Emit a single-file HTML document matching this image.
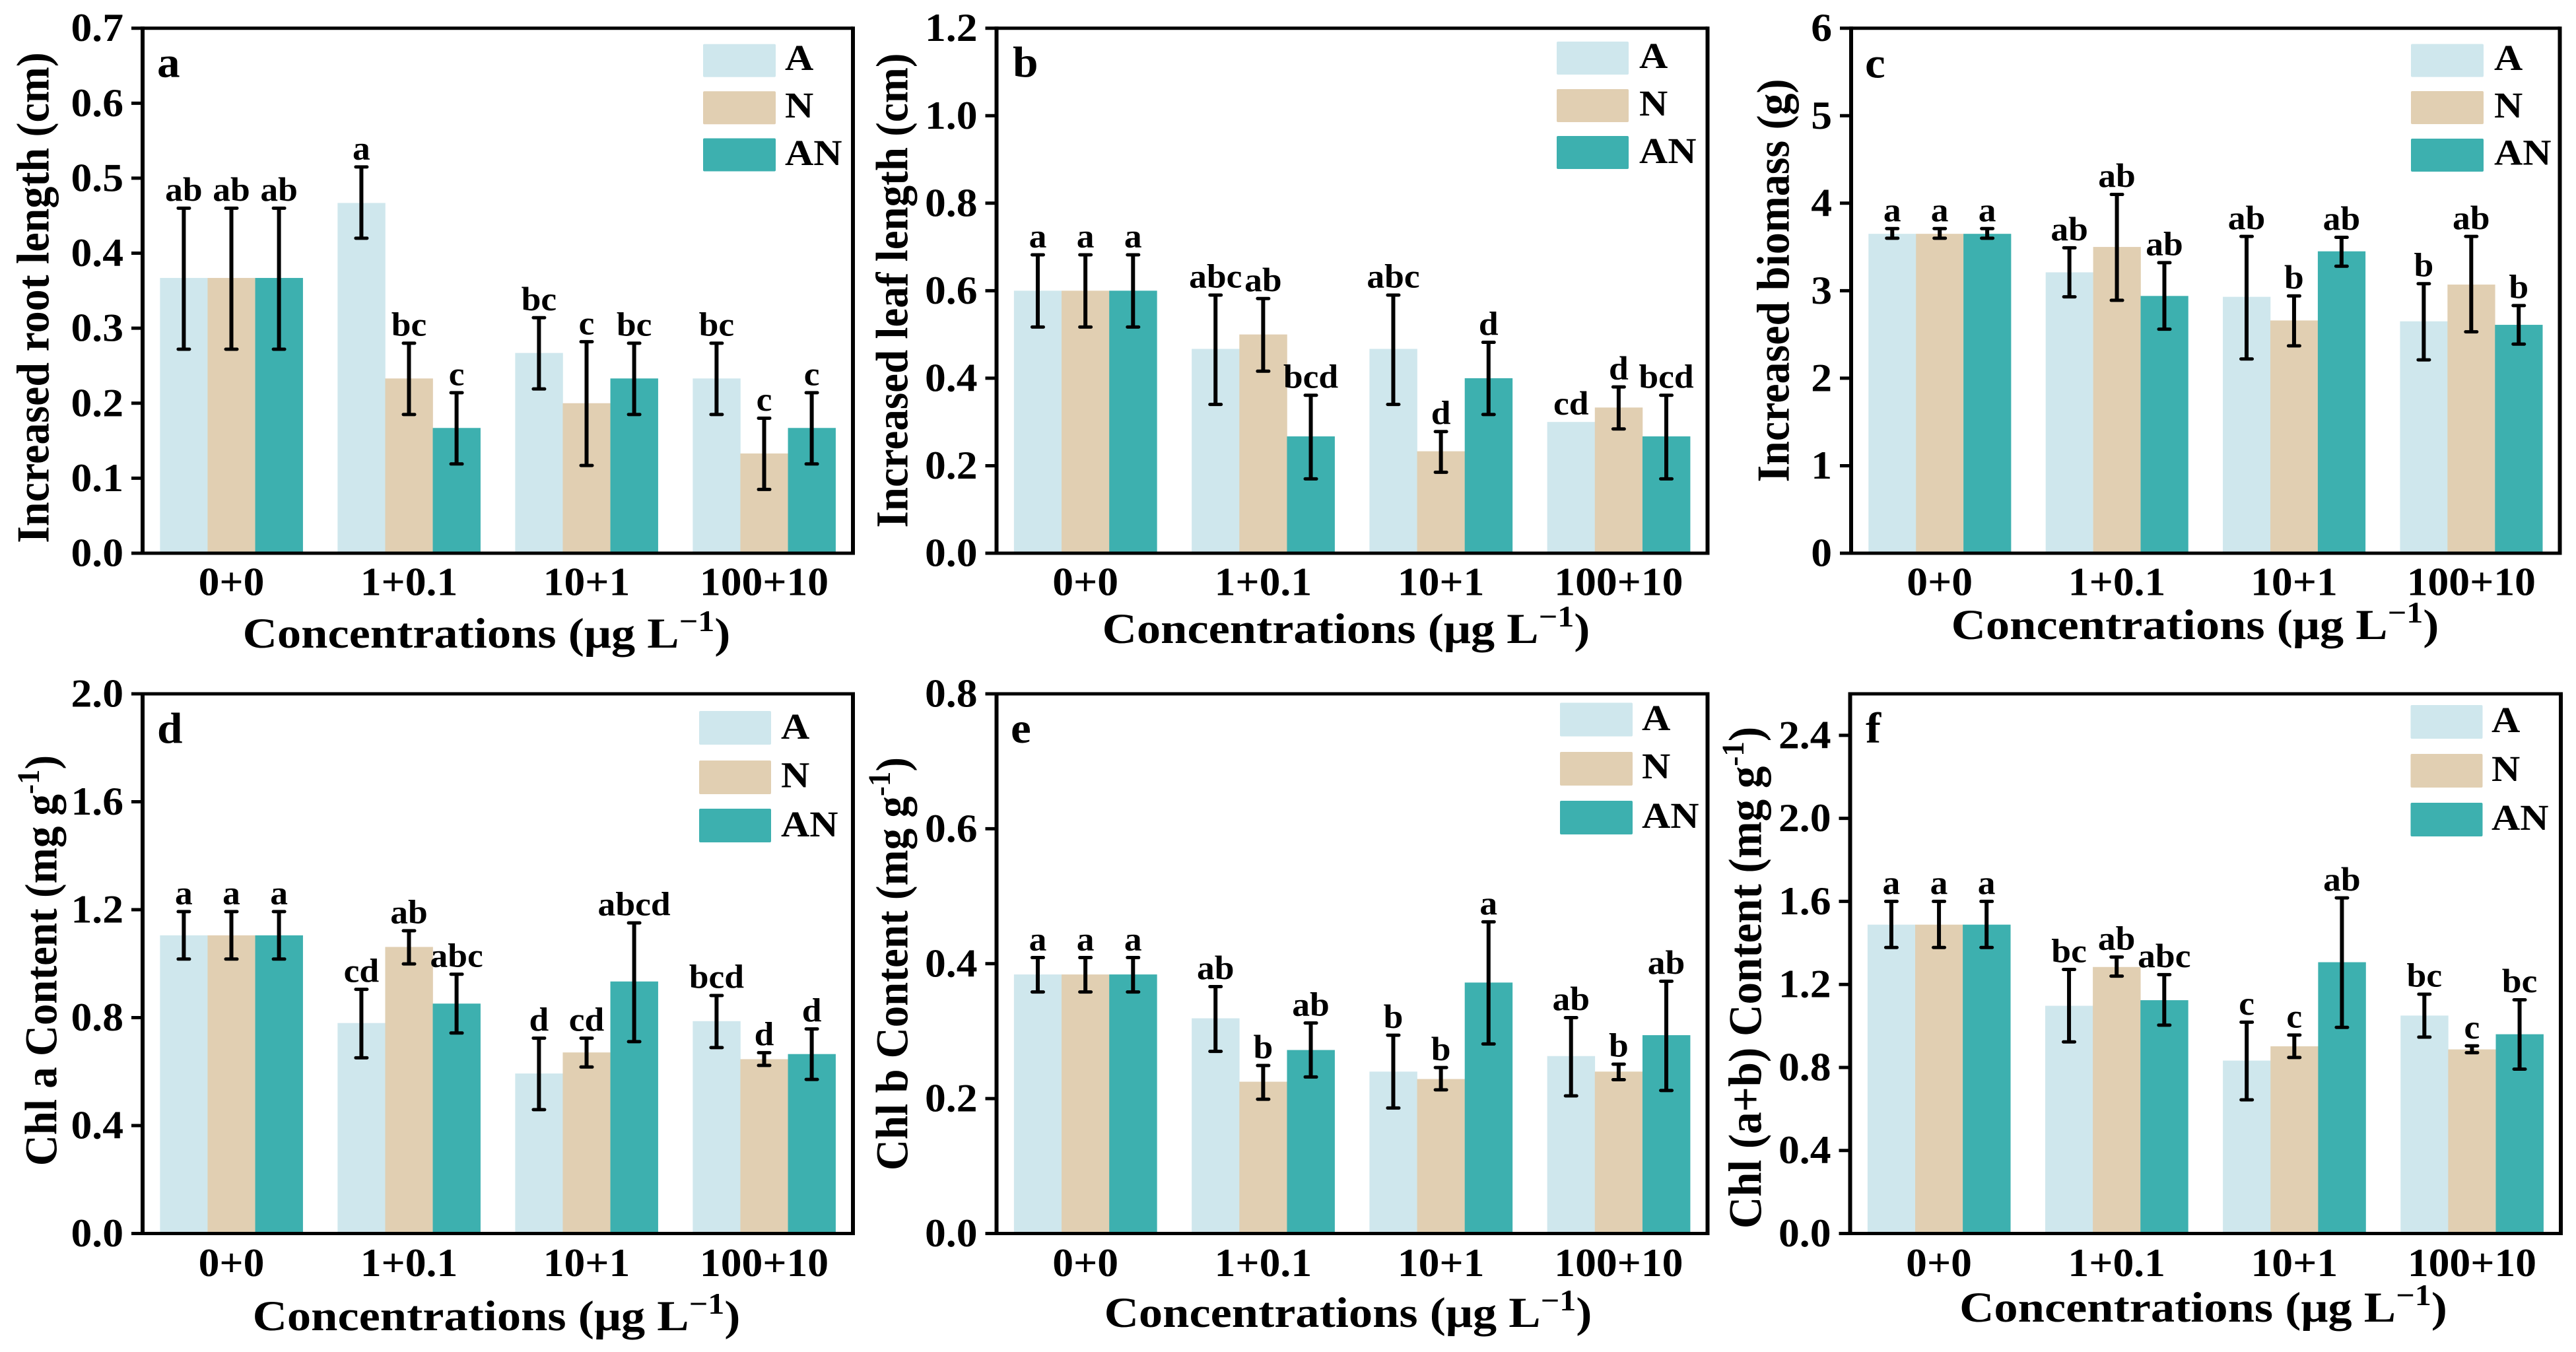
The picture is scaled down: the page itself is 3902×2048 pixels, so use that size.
<!DOCTYPE html>
<html lang="en">
<head>
<meta charset="utf-8">
<title>Six-panel bar chart</title>
<style>
html,body{margin:0;padding:0;background:#fff;}
svg{display:block;}
text{font-family:"Liberation Serif",serif;font-weight:bold;fill:#000;}
</style>
</head>
<body>
<svg id="figure" xmlns="http://www.w3.org/2000/svg" width="3902" height="2048" viewBox="0 0 3902 2048"></svg>
<script>
const categories = ['0+0','1+0.1','10+1','100+10'];
const seriesNames = ['A','N','AN'];
const seriesColors = ['#cfe7ed','#e1cfb2','#3db0af'];

const aTicks = ['0.0','0.1','0.2','0.3','0.4','0.5','0.6','0.7'];
const aMeanA = [0.367,0.467,0.267,0.233];
const aMeanN = [0.367,0.233,0.200,0.133];
const aMeanAN = [0.367,0.167,0.233,0.167];
const aHighA = [0.460,0.515,0.314,0.280];
const aHighN = [0.460,0.280,0.282,0.180];
const aHighAN = [0.460,0.214,0.280,0.214];
const aLowA = [0.272,0.420,0.219,0.185];
const aLowN = [0.272,0.185,0.117,0.085];
const aLowAN = [0.272,0.119,0.185,0.119];
const aLetters = ['ab','ab','ab','a','bc','c','bc','c','bc','bc','c','c'];

const bTicks = ['0.0','0.2','0.4','0.6','0.8','1.0','1.2'];
const bMeanA = [0.600,0.467,0.467,0.300];
const bMeanN = [0.600,0.500,0.233,0.333];
const bMeanAN = [0.600,0.267,0.400,0.267];
const bHighA = [0.682,0.590,0.590,0.300];
const bHighN = [0.682,0.582,0.278,0.380];
const bHighAN = [0.682,0.361,0.482,0.361];
const bLowA = [0.517,0.340,0.340,0.300];
const bLowN = [0.517,0.416,0.185,0.284];
const bLowAN = [0.517,0.170,0.317,0.170];
const bLetters = ['a','a','a','abc','ab','bcd','abc','d','d','cd','d','bcd'];

const cTicks = ['0','1','2','3','4','5','6'];
const cMeanA = [3.65,3.21,2.93,2.65];
const cMeanN = [3.65,3.50,2.66,3.07];
const cMeanAN = [3.65,2.94,3.45,2.61];
const cHighA = [3.71,3.49,3.62,3.08];
const cHighN = [3.71,4.10,2.94,3.62];
const cHighAN = [3.71,3.32,3.61,2.83];
const cLowA = [3.60,2.93,2.22,2.21];
const cLowN = [3.60,2.89,2.37,2.53];
const cLowAN = [3.60,2.56,3.28,2.39];
const cLetters = ['a','a','a','ab','ab','ab','ab','b','ab','b','ab','b'];

const dTicks = ['0.0','0.4','0.8','1.2','1.6','2.0'];
const dMeanA = [1.105,0.780,0.593,0.787];
const dMeanN = [1.105,1.062,0.671,0.646];
const dMeanAN = [1.105,0.852,0.934,0.665];
const dHighA = [1.193,0.905,0.724,0.882];
const dHighN = [1.193,1.122,0.724,0.670];
const dHighAN = [1.193,0.961,1.151,0.758];
const dLowA = [1.017,0.651,0.459,0.689];
const dLowN = [1.017,0.999,0.617,0.623];
const dLowAN = [1.017,0.743,0.711,0.571];
const dLetters = ['a','a','a','cd','ab','abc','d','cd','abcd','bcd','d','d'];

const eTicks = ['0.0','0.2','0.4','0.6','0.8'];
const eMeanA = [0.384,0.319,0.240,0.263];
const eMeanN = [0.384,0.225,0.229,0.240];
const eMeanAN = [0.384,0.272,0.372,0.294];
const eHighA = [0.409,0.366,0.294,0.320];
const eHighN = [0.409,0.249,0.246,0.251];
const eHighAN = [0.409,0.312,0.462,0.374];
const eLowA = [0.358,0.270,0.186,0.204];
const eLowN = [0.358,0.199,0.213,0.228];
const eLowAN = [0.358,0.232,0.281,0.212];
const eLetters = ['a','a','a','ab','b','ab','b','b','a','ab','b','ab'];

const fTicks = ['0.0','0.4','0.8','1.2','1.6','2.0','2.4'];
const fMeanA = [1.488,1.097,0.833,1.050];
const fMeanN = [1.488,1.284,0.902,0.887];
const fMeanAN = [1.488,1.124,1.307,0.960];
const fHighA = [1.600,1.272,1.018,1.153];
const fHighN = [1.600,1.332,0.956,0.904];
const fHighAN = [1.600,1.247,1.617,1.126];
const fLowA = [1.378,0.923,0.644,0.946];
const fLowN = [1.378,1.240,0.848,0.871];
const fLowAN = [1.378,1.004,0.993,0.792];
const fLetters = ['a','a','a','bc','ab','abc','c','c','ab','bc','c','bc'];

const panels = [
 {id:'a',left:216,right:1292,top:42.7,bottom:838,yMax:0.7,ticks:aTicks,means:[aMeanA,aMeanN,aMeanAN],highs:[aHighA,aHighN,aHighAN],lows:[aLowA,aLowN,aLowAN],letters:aLetters,
  yTitle:['Increased root length (cm)'],yX:73.5,yY:451,ySize:66,xTitleX:737,xTitleY:981,tickY:901.5,legX:1065,legW:110,legY:[66.7,138.3,209.5],legH:50,legTextX:1189,legBase:[106,178,250],tagX:238,tagY:116.5},
 {id:'b',left:1509.5,right:2586.5,top:42.7,bottom:838,yMax:1.2,ticks:bTicks,means:[bMeanA,bMeanN,bMeanAN],highs:[bHighA,bHighN,bHighAN],lows:[bLowA,bLowN,bLowAN],letters:bLetters,
  yTitle:['Increased leaf length (cm)'],yX:1374.5,yY:440,ySize:65,xTitleX:2039,xTitleY:974,tickY:901.5,legX:2358,legW:109,legY:[63,135,206],legH:50,legTextX:2483,legBase:[103,175,247],tagX:1534,tagY:116},
 {id:'c',left:2804,right:3877.5,top:42.7,bottom:838,yMax:6,ticks:cTicks,means:[cMeanA,cMeanN,cMeanAN],highs:[cHighA,cHighN,cHighAN],lows:[cLowA,cLowN,cLowAN],letters:cLetters,
  yTitle:['Increased biomass (g)'],yX:2709.5,yY:425,ySize:66,xTitleX:3325,xTitleY:968,tickY:901.5,legX:3652,legW:110,legY:[66.6,138,210],legH:50,legTextX:3778,legBase:[106,178,249.5],tagX:2825,tagY:117.5},
 {id:'d',left:216,right:1292,top:1051,bottom:1868.5,yMax:2,ticks:dTicks,means:[dMeanA,dMeanN,dMeanAN],highs:[dHighA,dHighN,dHighAN],lows:[dLowA,dLowN,dLowAN],letters:dLetters,
  yTitle:['Chl a Content (mg g','-1',')'],yX:85.5,yY:1455,ySize:65,xTitleX:752,xTitleY:2015,tickY:1933,legX:1059,legW:109,legY:[1077,1152,1225],legH:51,legTextX:1183,legBase:[1119,1192.5,1267],tagX:238,tagY:1125},
 {id:'e',left:1509.5,right:2586.5,top:1051,bottom:1868.5,yMax:0.8,ticks:eTicks,means:[eMeanA,eMeanN,eMeanAN],highs:[eHighA,eHighN,eHighAN],lows:[eLowA,eLowN,eLowAN],letters:eLetters,
  yTitle:['Chl b Content (mg g','-1',')'],yX:1374.5,yY:1460,ySize:65,xTitleX:2042,xTitleY:2010,tickY:1933,legX:2363,legW:110,legY:[1064.5,1139,1213],legH:51,legTextX:2487,legBase:[1106,1179,1254],tagX:1531,tagY:1125},
 {id:'f',left:2802.5,right:3879,top:1051,bottom:1868.5,yMax:2.6,ticks:fTicks,means:[fMeanA,fMeanN,fMeanAN],highs:[fHighA,fHighN,fHighAN],lows:[fLowA,fLowN,fLowAN],letters:fLetters,
  yTitle:['Chl (a+b) Content (mg g','-1',')'],yX:2667.5,yY:1481,ySize:67,xTitleX:3337.5,xTitleY:2002,tickY:1933,legX:3651.5,legW:109,legY:[1068,1142,1216],legH:51,legTextX:3774,legBase:[1109,1183,1257],tagX:2826,tagY:1125}
];

const NS = 'http://www.w3.org/2000/svg';
const svg = document.getElementById('figure');
const BAR_FRAC = 0.268;

function mk(tag, parent, attrs) {
  const n = document.createElementNS(NS, tag);
  for (const k in attrs) n.setAttribute(k, attrs[k]);
  parent.appendChild(n);
  return n;
}
function hText(parent, str, x, y, size, sx, anchor) {
  const t = mk('text', parent, {transform:'translate(' + x + ',' + y + ') scale(' + sx + ',1)', 'font-size':size, 'text-anchor':anchor});
  t.textContent = str;
  return t;
}
function sup(t, str, dyUp, size, base) {
  const s = mk('tspan', t, {dy:-dyUp, 'font-size':size});
  s.textContent = str;
  const r = mk('tspan', t, {dy:dyUp, 'font-size':base});
  return r;
}

panels.forEach(function (p) {
  const g = mk('g', svg, {});
  
  

  const step = (p.right - p.left) / categories.length;
  const xScale = function (i) { return p.left + (i + 0.5) * step; };
  const yScale = function (v) { return p.bottom - (v / p.yMax) * (p.bottom - p.top); };
  const barW = BAR_FRAC * step;

  // bars
  seriesNames.forEach(function (name, s) {
    categories.forEach(function (cat, i) {
      const cx = xScale(i) + (s - 1) * barW;
      const yTop = yScale(p.means[s][i]);
      const bar = mk('rect', g, {x:cx - barW / 2, y:yTop, width:barW + 0.3, height:p.bottom - yTop, fill:seriesColors[s]});
      
      
    });
  });

  // error bars & significance letters
  seriesNames.forEach(function (name, s) {
    categories.forEach(function (cat, i) {
      const cx = xScale(i) + (s - 1) * barW;
      const hi = p.highs[s][i];
      const lo = p.lows[s][i];
      if (hi !== lo) {
        const eb = mk('g', g, {stroke:'#000'});
        
        
        mk('line', eb, {x1:cx, x2:cx, y1:yScale(hi), y2:yScale(lo), 'stroke-width':6});
        mk('line', eb, {x1:cx - 8.5, x2:cx + 8.5, y1:yScale(hi), y2:yScale(hi), 'stroke-width':5, 'stroke-linecap':'round'});
        mk('line', eb, {x1:cx - 8.5, x2:cx + 8.5, y1:yScale(lo), y2:yScale(lo), 'stroke-width':5, 'stroke-linecap':'round'});
      }
      const lab = hText(g, p.letters[i * 3 + s], cx, yScale(hi) - 11.3, 51, 1.05, 'middle');
      
      
    });
  });

  // frame
  const frame = mk('g', g, {stroke:'#000', fill:'none'});
  
  
  mk('line', frame, {x1:p.left, x2:p.left, y1:p.top - 2.5, y2:p.bottom + 2.5, 'stroke-width':6});
  mk('line', frame, {x1:p.right, x2:p.right, y1:p.top - 2.5, y2:p.bottom + 2.5, 'stroke-width':6});
  mk('line', frame, {x1:p.left, x2:p.right, y1:p.top, y2:p.top, 'stroke-width':5});
  mk('line', frame, {x1:p.left, x2:p.right, y1:p.bottom, y2:p.bottom, 'stroke-width':5});

  // y ticks
  p.ticks.forEach(function (label) {
    const y = yScale(parseFloat(label));
    const tick = mk('line', g, {x1:p.left - 17, x2:p.left, y1:y, y2:y, stroke:'#000', 'stroke-width':5});
    
    
    const tl = hText(g, label, p.left - 29, y + 19.5, 60, 1.06, 'end');
    
    
  });

  // x tick labels
  categories.forEach(function (cat, i) {
    const xl = hText(g, cat, xScale(i), p.tickY, 60, 1.06, 'middle');
    
    
  });

  // x title
  const xt = hText(g, 'Concentrations (μg L', p.xTitleX, p.xTitleY, 65, 1.115, 'middle');
  
  
  const xTail = sup(xt, '−1', 25, 45, 65);
  xTail.textContent = ')';

  // y title
  const yt = mk('text', g, {transform:'translate(' + p.yX + ',' + p.yY + ') rotate(-90) scale(1,1.06)', 'font-size':p.ySize, 'text-anchor':'middle'});
  
  
  yt.textContent = p.yTitle[0];
  if (p.yTitle.length > 1) {
    const yTail = sup(yt, p.yTitle[1], 25, 45, p.ySize);
    yTail.textContent = p.yTitle[2];
  }

  // panel tag
  const tag = hText(g, p.id, p.tagX, p.tagY, 66, 1.05, 'start');
  
  

  // legend
  const leg = mk('g', g, {});
  
  
  seriesNames.forEach(function (name, s) {
    const sw = mk('rect', leg, {x:p.legX, y:p.legY[s], width:p.legW, height:p.legH, rx:2, fill:seriesColors[s]});
    
    
    const lt = hText(leg, name, p.legTextX, p.legBase[s], 55, 1.09, 'start');
    
    
  });
});
</script>
</body>
</html>
